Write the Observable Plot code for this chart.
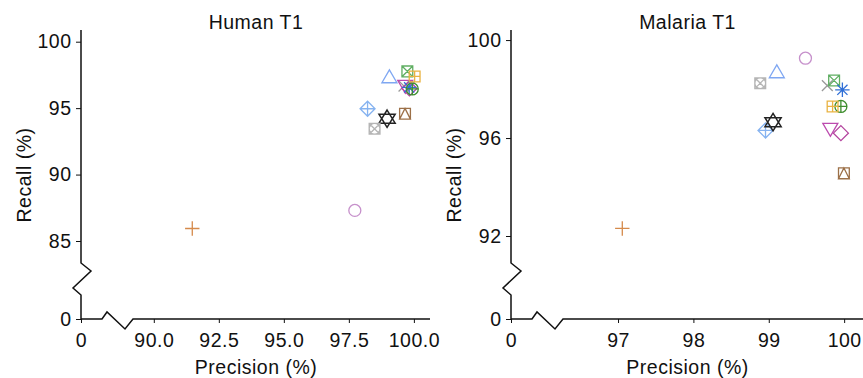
<!DOCTYPE html>
<html><head><meta charset="utf-8">
<script src="https://cdn.jsdelivr.net/npm/d3@7"></script>
<script src="https://cdn.jsdelivr.net/npm/@observablehq/plot@0.6"></script>
<style>
body{margin:0;background:#fff;}
#wrap{position:relative;width:863px;height:378px;overflow:hidden;}
#wrap svg{position:absolute;top:0;}
</style></head><body><div id="wrap"></div>
<script>
// ---- data ----
const methods = ["M1","M2","M3","M4","M5","M6","M7","M8","M9","M10","M11","M12","M13","M14"];
const symbolNames = ["circle","triangle","plus","cross","diamond","triangleDown","squareCross","asterisk","diamondPlus","circlePlus","star","squarePlus","squareCircleCross","squareTriangle"];
const colors = ["#C690CB","#7FA7F2","#D58A4B","#9A9A9A","#B4449E","#BC4AAE","#5FAE62","#2F6FD6","#86B3F0","#3E8E2E","#222222","#E9B342","#B5B5B5","#9C7048"];

const humanPrecision = [97.71, 99.04, 91.46, 99.60, 99.81, 99.65, 99.73, 99.80, 98.20, 99.92, 98.95, 100.01, 98.47, 99.64];
const humanRecall    = [87.34, 97.33, 85.98, 96.70, 96.52, 96.74, 97.80, 96.60, 94.99, 96.48, 94.24, 97.42, 93.48, 94.61];
const malariaPrecision = [99.48, 99.10, 97.05, 99.77, 99.95, 99.81, 99.86, 99.97, 98.95, 99.95, 99.05, 99.84, 98.88, 99.99];
const malariaRecall    = [99.28, 98.69, 92.33, 98.16, 96.22, 96.41, 98.37, 97.99, 96.33, 97.31, 96.67, 97.31, 98.26, 94.58];

const humanXTicks = [0, 90, 92.5, 95, 97.5, 100];
const humanXTickLabels = ["0", "90.0", "92.5", "95.0", "97.5", "100.0"];
const humanYTicks = [0, 85, 90, 95, 100];
const humanYTickLabels = ["0", "85", "90", "95", "100"];
const malariaXTicks = [0, 97, 98, 99, 100];
const malariaXTickLabels = ["0", "97", "98", "99", "100"];
const malariaYTicks = [0, 92, 96, 100];
const malariaYTickLabels = ["0", "92", "96", "100"];

// ---- symbols (R pch style) ----
function tri(ctx, r, dir) {
  const t = -1.3 * r * dir, b = 0.85 * r * dir, w = 1.25 * r;
  ctx.moveTo(0, t); ctx.lineTo(w, b); ctx.lineTo(-w, b); ctx.closePath();
}
function circ(ctx, r) { ctx.moveTo(r, 0); ctx.arc(0, 0, r, 0, 2 * Math.PI); }
function sq(ctx, a) { ctx.rect(-a, -a, 2 * a, 2 * a); }
function seg(ctx, x1, y1, x2, y2) { ctx.moveTo(x1, y1); ctx.lineTo(x2, y2); }
const drawers = {
  circle: (c, r) => circ(c, r),
  triangle: (c, r) => tri(c, r, 1),
  triangleDown: (c, r) => tri(c, r, -1),
  plus: (c, r) => { const h = 1.2 * r; seg(c, -h, 0, h, 0); seg(c, 0, -h, 0, h); },
  cross: (c, r) => { const h = 0.9 * r; seg(c, -h, -h, h, h); seg(c, -h, h, h, -h); },
  diamond: (c, r) => { const h = 1.25 * r; c.moveTo(0, -h); c.lineTo(h, 0); c.lineTo(0, h); c.lineTo(-h, 0); c.closePath(); },
  squareCross: (c, r) => { const a = 0.9 * r; sq(c, a); seg(c, -a, -a, a, a); seg(c, -a, a, a, -a); },
  asterisk: (c, r) => { const h = 1.2 * r, k = 0.85 * r; seg(c, -h, 0, h, 0); seg(c, 0, -h, 0, h); seg(c, -k, -k, k, k); seg(c, -k, k, k, -k); },
  diamondPlus: (c, r) => { const h = 1.25 * r; c.moveTo(0, -h); c.lineTo(h, 0); c.lineTo(0, h); c.lineTo(-h, 0); c.closePath(); seg(c, -h, 0, h, 0); seg(c, 0, -h, 0, h); },
  circlePlus: (c, r) => { circ(c, r); seg(c, -r, 0, r, 0); seg(c, 0, -r, 0, r); },
  star: (c, r) => { const t = 1.45 * r, b = 0.75 * r, w = 1.35 * r;
    c.moveTo(0, -t); c.lineTo(w, b); c.lineTo(-w, b); c.closePath();
    c.moveTo(0, t); c.lineTo(w, -b); c.lineTo(-w, -b); c.closePath(); },
  squarePlus: (c, r) => { const a = 0.9 * r; sq(c, a); seg(c, -a, 0, a, 0); seg(c, 0, -a, 0, a); },
  squareCircleCross: (c, r) => { const a = 0.9 * r; sq(c, a); circ(c, a); seg(c, -a, -a, a, a); seg(c, -a, a, a, -a); },
  squareTriangle: (c, r) => { const a = 0.9 * r; sq(c, a); c.moveTo(0, -a); c.lineTo(a, a); c.lineTo(-a, a); c.closePath(); }
};
function symbolOf(name) {
  return { draw(ctx, size) { const r = Math.sqrt(size / Math.PI); drawers[name](ctx, r); } };
}

// ---- broken axes ----
function brokenAxes(index, scales, values, dims) {
  const x0 = scales.x(0), y0 = scales.y(0);
  const top = dims.marginTop, right = dims.width - dims.marginRight;
  const d = `M${x0},${top}V${y0 - 56}L${x0 + 10},${y0 - 48}L${x0 - 8},${y0 - 31}L${x0},${y0 - 24}V${y0}` +
            `H${x0 + 21}L${x0 + 26},${y0 - 7}L${x0 + 44},${y0 + 10}L${x0 + 52},${y0}H${right}`;
  const p = document.createElementNS("http://www.w3.org/2000/svg", "path");
  p.setAttribute("d", d);
  p.setAttribute("fill", "none");
  p.setAttribute("stroke", "#111");
  p.setAttribute("stroke-width", "1.5");
  return p;
}

function panel({title, prec, rec, xTicks, xLabels, yTicks, yLabels, xDomain, xRange, yDomain, yRange, width}) {
  const rows = methods.map((m, i) => ({method: m, p: prec[i], r: rec[i], sym: symbolNames[i], color: colors[i]}));
  const dots = rows.map(d => Plot.dot([d], {
    x: "p", y: "r", r: 6, symbol: symbolOf(d.sym), stroke: d.color, fill: "none", strokeWidth: d.sym === "star" ? 1.5 : 1.3
  }));
  return Plot.plot({
    width, height: 378,
    marginLeft: 81, marginRight: 0, marginTop: 30, marginBottom: 59,
    style: "font-family: 'Liberation Sans', Arial, Helvetica, sans-serif; font-size: 19.5px; letter-spacing: 0.5px; background: transparent; overflow: visible; color: #111;",
    x: {type: "linear", domain: xDomain, range: xRange, ticks: xTicks, tickFormat: d => xLabels[xTicks.indexOf(d)], tickSize: 4, tickPadding: 10, label: null},
    y: {type: "linear", domain: yDomain, range: yRange, ticks: yTicks, tickFormat: d => yLabels[yTicks.indexOf(d)], tickSize: 5, tickPadding: 5, label: null},
    marks: [
      brokenAxes,
      ...dots,
      Plot.text([title], {frameAnchor: "top", dy: -15, lineAnchor: "top", fontSize: 19.5, fill: "#111"}),
      Plot.text(["Precision (%)"], {frameAnchor: "bottom", dy: 41, lineAnchor: "top", fontSize: 19.5, fill: "#111"}),
      Plot.text(["Recall (%)"], {frameAnchor: "left", dx: -57, rotate: -90, lineAnchor: "middle", textAnchor: "middle", fontSize: 19.5, fill: "#111"})
    ]
  });
}

const left = panel({
  title: "Human T1", prec: humanPrecision, rec: humanRecall,
  xTicks: humanXTicks, xLabels: humanXTickLabels, yTicks: humanYTicks, yLabels: humanYTickLabels,
  xDomain: [0, 89.2, 100.62], xRange: [81, 133, 430],
  yDomain: [0, 85, 100.88], yRange: [319, 241, 30], width: 430
});
const right = panel({
  title: "Malaria T1", prec: malariaPrecision, rec: malariaRecall,
  xTicks: malariaXTicks, xLabels: malariaXTickLabels, yTicks: malariaYTicks, yLabels: malariaYTickLabels,
  xDomain: [0, 96.27, 100.25], xRange: [81, 133, 433],
  yDomain: [0, 90, 100.44], yRange: [319, 285, 29.3], width: 433
});
right.style.left = "430px";
left.style.left = "0px";
const wrap = document.getElementById("wrap");
wrap.appendChild(right);
wrap.appendChild(left);
</script></body></html>
